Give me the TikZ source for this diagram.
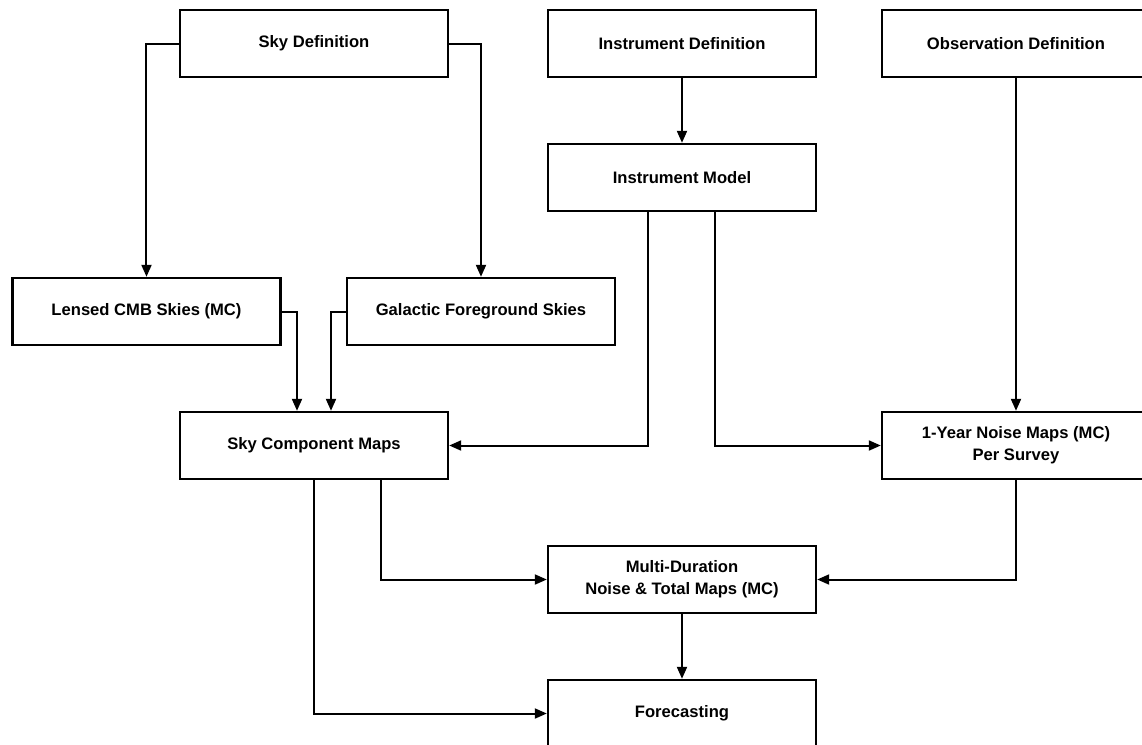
\documentclass[tikz,border=0pt]{standalone}
\usepackage{fontspec}
\setmainfont{Liberation Sans}
\usetikzlibrary{arrows.meta}

\begin{document}
\begin{tikzpicture}[
    >={Triangle[length=6pt, width=5pt]},   % arrow tip style
    node distance=67pt,                    % spacing between rows
    box/.style={rectangle, draw, line width=1.2pt, minimum width=134pt,
        minimum height=33.5pt, align=center,
        font=\bfseries\fontsize{8.3}{10.8}\selectfont},
    link/.style={->, line width=1pt}]
    \useasboundingbox (-157pt,21.75pt) rectangle (414pt,-350.75pt);

    % Nodes
    \node[box] (skydef) {Sky Definition};
    \node[box] (instdef) [right of=skydef, node distance=184pt] {Instrument Definition};
    \node[box] (obsdef) [right of=instdef, node distance=167pt] {Observation Definition};
    \node[box] (instmodel) [below of=instdef] {Instrument Model};
    \node[box] (lensed) [below of=skydef, node distance=134pt, xshift=-83.75pt] {Lensed CMB Skies (MC)};
    \node[box] (galactic) [below of=skydef, node distance=134pt, xshift=83.5pt] {Galactic Foreground Skies};
    \node[box] (skycomp) [below of=skydef, node distance=201pt] {Sky Component Maps};
    \node[box] (noise1yr) [below of=obsdef, node distance=201pt] {1-Year Noise Maps (MC)\\Per Survey};
    \node[box] (multi) [below of=instmodel, node distance=201pt] {Multi-Duration\\Noise \& Total Maps (MC)};
    \node[box] (forecast) [below of=multi] {Forecasting};

    % Connectors
    \draw[link] (skydef.west) -| (lensed.north);
    \draw[link] (skydef.east) -| (galactic.north);
    \draw[link] (instdef) -- (instmodel);
    \draw[link] (obsdef) -- (noise1yr);
    \draw[link] (lensed.east) -| ([xshift=-8.5pt]skycomp.north);
    \draw[link] (galactic.west) -| ([xshift=8.5pt]skycomp.north);
    \draw[link] ([xshift=-17pt]instmodel.south) |- (skycomp.east);
    \draw[link] ([xshift=16.5pt]instmodel.south) |- (noise1yr.west);
    \draw[link] ([xshift=33.5pt]skycomp.south) |- (multi.west);
    \draw[link] (skycomp.south) |- (forecast.west);
    \draw[link] (noise1yr.south) |- (multi.east);
    \draw[link] (multi) -- (forecast);
\end{tikzpicture}
\end{document}
